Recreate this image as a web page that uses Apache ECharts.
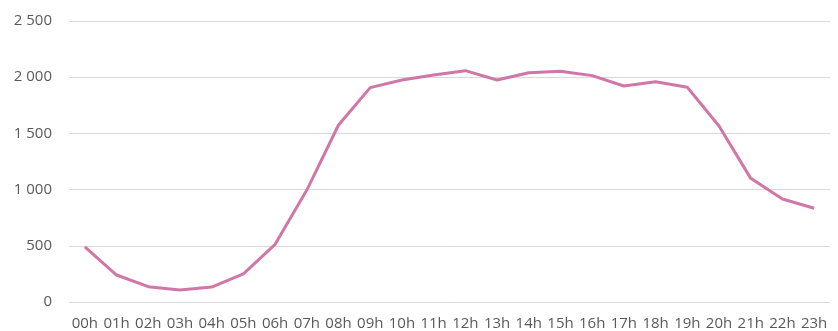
<!DOCTYPE html>
<html>
<head>
<meta charset="utf-8">
<script src="https://cdn.jsdelivr.net/npm/echarts@6/dist/echarts.min.js"></script>
<style>
html,body{margin:0;padding:0;background:#fff;}
#chart{width:838px;height:331px;}
</style>
</head>
<body>
<div id="chart"></div>
<script>
var hours = ["00h","01h","02h","03h","04h","05h","06h","07h","08h","09h","10h","11h","12h","13h","14h","15h","16h","17h","18h","19h","20h","21h","22h","23h"];
var values = [490, 240, 136, 107, 133, 250, 513, 996, 1575, 1907, 1975, 2020, 2058, 1975, 2040, 2053, 2014, 1922, 1960, 1910, 1566, 1100, 916, 834];
var yTicks = [0, 500, 1000, 1500, 2000, 2500];

function fmt(v){ return String(v).replace(/\B(?=(\d{3})+(?!\d))/g, " "); }

var chart = echarts.init(document.getElementById('chart'), null, {renderer:'canvas'});
chart.setOption({
  animation: false,
  grid: {left: 69, right: 8, top: 21, bottom: 29},
  xAxis: {
    type: 'category',
    data: hours,
    boundaryGap: true,
    axisLine: {show: false},
    axisTick: {show: false},
    axisLabel: {color: '#595959', fontSize: 15, fontFamily: 'Open Sans', margin: 14, interval: 0, hideOverlap: false}
  },
  yAxis: {
    type: 'value',
    min: yTicks[0],
    max: yTicks[yTicks.length-1],
    interval: 500,
    axisLine: {show: false},
    axisTick: {show: false},
    splitLine: {lineStyle: {color: '#D9D9D9', width: 1}},
    axisLabel: {color: '#595959', fontSize: 15, fontFamily: 'Open Sans', margin: 17, formatter: fmt}
  },
  series: [{
    type: 'line',
    data: values,
    symbol: 'none',
    lineStyle: {color: '#D077A7', width: 3, join: 'round'}
  }]
});
</script>
</body>
</html>
